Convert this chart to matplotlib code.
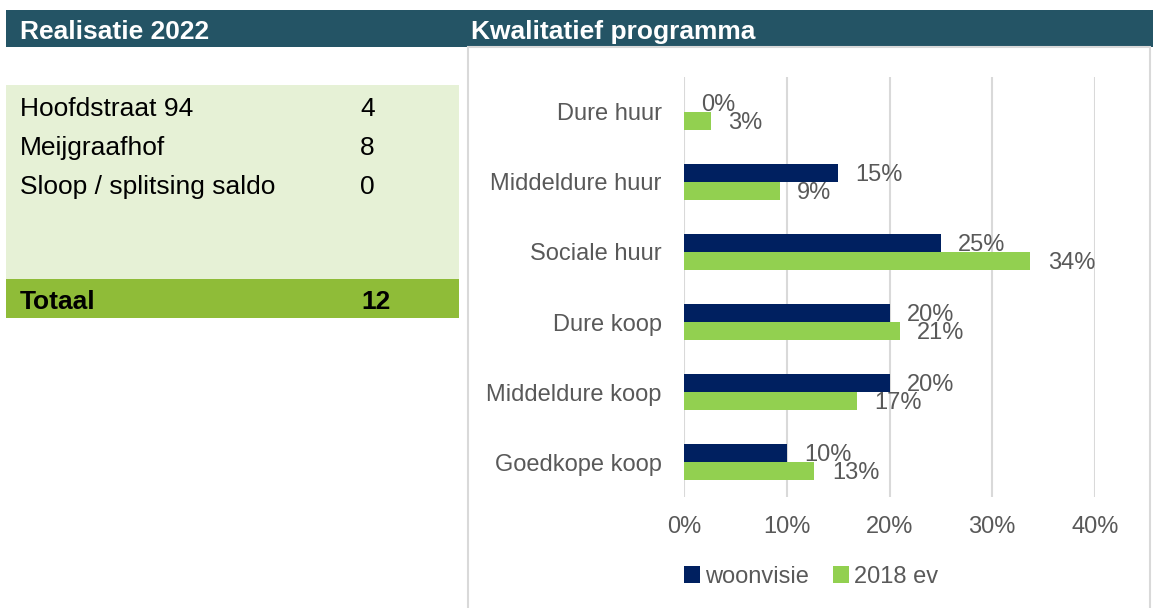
import matplotlib.pyplot as plt
from matplotlib.patches import Rectangle
import numpy as np

plt.rcParams['font.family'] = ['Liberation Sans', 'DejaVu Sans']

# left table
row_names = ["Hoofdstraat 94", "Meijgraafhof", "Sloop / splitsing saldo"]
row_values = [4, 8, 0]
total_label = "Totaal"
total_value = 12

# bar chart
categories = ["Dure huur", "Middeldure huur", "Sociale huur", "Dure koop",
              "Middeldure koop", "Goedkope koop"]
woonvisie = [0.00, 0.15, 0.25, 0.20, 0.20, 0.10]
ev2018 = [0.026, 0.093, 0.337, 0.21, 0.168, 0.127]
series_names = ["woonvisie", "2018 ev"]
xticks = [0, 0.1, 0.2, 0.3, 0.4]

W, H = 1153, 608
header_col = "#245465"
navy = "#002060"
green = "#92D050"
grey_txt = "#595959"

fig = plt.figure(figsize=(W / 100, H / 100), dpi=100)


def fx(px):
    return px / W


def fy(py):
    return 1 - py / H


def box(x0, y0, x1, y1, **kw):
    fig.patches.append(Rectangle((fx(x0), fy(y1)), fx(x1) - fx(x0), fy(y0) - fy(y1),
                                 transform=fig.transFigure, **kw))


# header band
box(6, 10, 1153, 47, color=header_col, lw=0)
fig.text(fx(20), fy(32), "Realisatie 2022", color="white", fontsize=19,
         fontweight="bold", va="center")
fig.text(fx(471), fy(32), "Kwalitatief programma", color="white", fontsize=19,
         fontweight="bold", va="center")

# chart frame
box(468, 47, 1150, 612, fill=False, edgecolor="#D9D9D9", lw=1.5)

# table
box(6, 85, 459, 279, color="#E6F1D6", lw=0)
box(6, 279, 459, 318, color="#8FBC38", lw=0)
for i, (name, val) in enumerate(zip(row_names, row_values)):
    y = 109 + i * 39
    fig.text(fx(20), fy(y), name, fontsize=19, va="center", color="black")
    fig.text(fx(360), fy(y), str(val), fontsize=19, va="center", color="black")
fig.text(fx(20), fy(302), total_label, fontsize=19, fontweight="bold", va="center")
fig.text(fx(361), fy(302), str(total_value), fontsize=19, fontweight="bold", va="center")

# bar chart axes
ax = fig.add_axes([fx(684), fy(497), fx(1095) - fx(684), fy(77) - fy(497)])
y = np.arange(len(categories))
bh = 0.257
ax.barh(y - bh / 2, woonvisie, height=bh, color=navy, label=series_names[0], zorder=3)
ax.barh(y + bh / 2, ev2018, height=bh, color=green, label=series_names[1], zorder=3)

for yi, v in zip(y, woonvisie):
    ax.annotate(f"{v:.0%}", (v, yi - bh / 2 + 0.03), xytext=(12.5, 0), textcoords="offset points",
                va="center", ha="left", fontsize=17, color=grey_txt)
for yi, v in zip(y, ev2018):
    ax.annotate(f"{v:.0%}", (v, yi + bh / 2 + 0.03), xytext=(12.5, 0), textcoords="offset points",
                va="center", ha="left", fontsize=17, color=grey_txt)

ax.set_ylim(len(categories) - 0.5, -0.5)
ax.set_xlim(0, 0.4)
ax.set_yticks(y)
ax.set_yticklabels(categories)
ax.set_xticks(xticks)
ax.set_xticklabels([f"{t:.0%}" for t in xticks])
ax.tick_params(axis="both", length=0, labelsize=17, labelcolor=grey_txt)
ax.tick_params(axis="y", pad=16)
ax.tick_params(axis="x", pad=14)
ax.grid(axis="x", color="#D9D9D9", lw=1.5, zorder=0)
for s in ax.spines.values():
    s.set_visible(False)
ax.set_facecolor("none")

leg = ax.legend(loc="center", bbox_to_anchor=(fx(811), fy(577)), bbox_transform=fig.transFigure,
                ncol=2, frameon=False, fontsize=17, handlelength=0.7, handleheight=0.7,
                handletextpad=0.2, columnspacing=1.0)
for t in leg.get_texts():
    t.set_color(grey_txt)

fig.savefig("out.png", dpi=100)
